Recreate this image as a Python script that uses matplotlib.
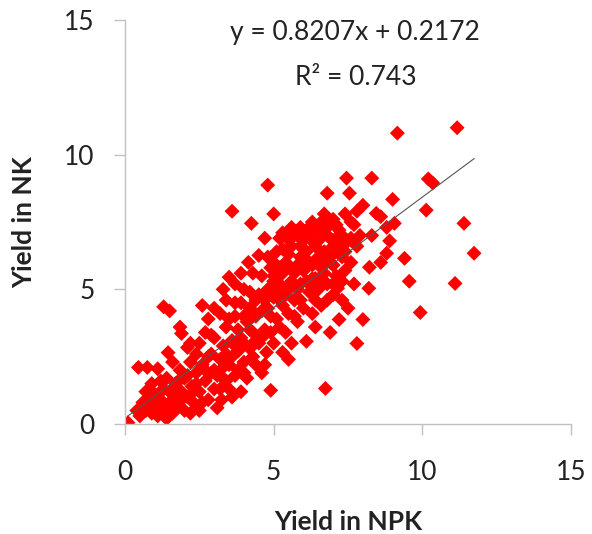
import numpy as np
import matplotlib
matplotlib.use('Agg')
import matplotlib.pyplot as plt

# --- values (yield in t/ha) ---
yield_npk = [
    # near origin
    0.1, 0.4, 0.5, 0.6, 0.7, 0.8, 0.9, 1.0, 1.0, 1.1, 1.2, 1.3, 1.3, 1.4, 1.5, 1.5,
    0.45, 0.75, 1.1, 0.9, 1.2, 0.7, 1.4, 1.45, 1.2,
    # 1.5 - 3
    1.6, 1.7, 1.7, 1.8, 1.85, 1.9, 1.9, 2.0, 2.0, 2.1, 2.1, 2.2, 2.25, 2.3, 2.4, 2.4,
    2.5, 2.5, 2.6, 2.6, 2.7, 2.7, 2.8, 2.8, 2.9, 3.0, 3.0, 1.3, 1.5, 1.85, 2.9, 2.2,
    1.6, 2.5, 1.8, 1.6, 2.1, 2.4, 2.7, 3.0, 2.9, 2.3, 2.6, 1.9, 2.2,
    # 3 - 4.5
    3.1, 3.2, 3.25, 3.3, 3.3, 3.4, 3.5, 3.5, 3.5, 3.6, 3.6, 3.7, 3.7, 3.8, 3.8, 3.9,
    3.9, 4.0, 4.0, 4.0, 4.1, 4.1, 4.15, 4.2, 4.2, 4.25, 4.3, 4.3, 4.4, 4.4, 4.5, 4.5,
    4.5, 3.2, 3.4, 3.0, 3.7, 3.9, 3.3, 2.8, 4.2, 4.4, 4.3, 3.9, 3.6, 3.4, 3.8, 3.2,
    3.5, 4.0, 4.2, 3.7, 3.1, 3.4, 3.7, 4.0, 4.3, 3.3, 3.6,
    # 4.5 - 6
    4.6, 4.7, 4.7, 4.76, 4.8, 4.8, 4.9, 4.9, 5.0, 5.0, 5.0, 5.1, 5.1, 5.2, 5.3, 5.3,
    5.3, 5.4, 5.4, 5.45, 5.5, 5.5, 5.6, 5.6, 5.7, 5.7, 5.8, 5.8, 5.9, 5.9, 6.0, 6.0,
    6.0, 4.6, 4.8, 5.2, 4.9, 5.0, 5.2, 5.6, 5.5, 4.7, 4.6, 4.6, 4.8, 4.9, 5.1, 5.2,
    5.3, 5.4, 5.6, 5.7, 5.8, 5.9, 5.9, 5.5, 5.0, 4.7, 5.0, 5.3, 5.6, 5.9, 5.2, 5.5,
    5.8,
    # 6 - 8
    6.1, 6.1, 6.2, 6.2, 6.3, 6.3, 6.4, 6.4, 6.5, 6.5, 6.6, 6.6, 6.7, 6.74, 6.8, 6.8,
    6.8, 6.9, 6.9, 7.0, 7.0, 7.0, 7.1, 7.15, 7.2, 7.2, 7.3, 7.3, 7.4, 7.45, 7.4, 7.5,
    7.5, 7.55, 7.6, 7.7, 7.7, 7.8, 7.8, 7.9, 8.0, 8.0, 6.2, 6.6, 7.0, 7.3, 6.4, 6.9,
    7.6, 7.1, 6.1, 6.1, 6.3, 6.4, 6.5, 6.6, 6.7, 6.8, 7.0, 7.2, 7.3, 7.4, 7.6, 7.8,
    6.7, 6.3, 6.2, 6.5, 6.8, 7.1, 6.1, 6.4, 6.7, 7.0,
    # 8 - 12
    8.2, 8.22, 8.3, 8.45, 8.6, 8.8, 8.8, 8.9, 9.0, 9.06, 9.16, 9.4, 9.56, 9.93, 10.13,
    10.2, 10.35, 11.17, 11.4, 11.74, 11.1, 8.6, 8.3,
]

yield_nk = [
    # near origin
    0.05, 0.5, 0.3, 0.8, 0.5, 0.9, 0.4, 0.7, 1.1, 0.3, 0.9, 0.5, 1.3, 0.2, 0.8, 1.2,
    2.1, 2.1, 2.05, 1.5, 1.6, 1.2, 1.7, 2.65, 1.2,
    # 1.5 - 3
    0.4, 1.0, 1.5, 0.7, 2.0, 1.2, 3.36, 0.5, 1.7, 2.84, 1.0, 2.3, 1.4, 0.8, 1.9, 2.6,
    0.5, 1.2, 2.2, 4.4, 3.4, 1.6, 0.9, 2.5, 1.9, 3.2, 1.3, 4.35, 4.2, 3.6, 3.3, 3.0,
    2.3, 3.0, 1.6, 1.1, 1.8, 1.5, 2.0, 2.0, 2.6, 1.2, 0.8, 0.9, 0.4,
    # 3 - 4.5
    0.6, 2.4, 0.9, 1.7, 2.9, 3.6, 1.3, 5.45, 2.2, 3.1, 7.9, 1.8, 4.0, 2.7, 3.5, 1.2,
    4.5, 2.3, 3.0, 5.0, 3.8, 1.7, 6.0, 2.8, 4.3, 7.45, 3.4, 5.6, 2.2, 4.0, 3.0, 6.26,
    4.8, 4.1, 4.6, 4.3, 5.2, 5.6, 5.0, 3.9, 3.5, 4.6, 3.0, 3.2, 2.5, 2.6, 2.0, 1.3,
    3.9, 4.0, 4.9, 4.5, 1.8, 1.6, 2.9, 1.9, 2.5, 2.1, 1.0,
    # 4.5 - 6
    1.9, 3.5, 6.9, 2.66, 8.87, 4.3, 1.25, 5.8, 7.8, 3.0, 4.7, 3.9, 6.4, 5.2, 2.66, 7.1,
    4.4, 6.0, 3.4, 6.9, 5.0, 4.1, 6.6, 3.0, 5.6, 4.6, 7.0, 3.8, 6.2, 5.2, 4.3, 6.8,
    5.7, 5.5, 6.2, 5.8, 4.0, 5.5, 6.9, 7.3, 2.4, 2.2, 4.2, 3.2, 5.0, 3.4, 4.9, 3.6,
    5.6, 4.8, 5.3, 4.0, 5.9, 4.6, 7.3, 6.3, 6.0, 4.6, 5.3, 6.5, 6.9, 6.6, 4.6, 5.9,
    5.0,
    # 6 - 8
    3.07, 7.2, 4.9, 6.0, 5.4, 4.1, 6.6, 3.6, 5.0, 7.2, 5.8, 4.4, 6.4, 1.32, 8.57, 7.0,
    5.2, 3.4, 6.0, 7.6, 4.8, 6.6, 5.5, 5.04, 3.88, 7.2, 6.2, 4.6, 7.8, 9.13, 5.7, 6.8,
    4.3, 8.57, 6.0, 7.4, 5.2, 2.99, 6.6, 7.0, 3.88, 8.12, 6.9, 7.5, 5.9, 7.0, 5.4, 6.9,
    7.5, 6.9, 5.3, 6.4, 5.9, 4.6, 6.2, 5.2, 5.6, 4.6, 5.2, 6.6, 5.3, 6.4, 6.9, 7.9,
    7.8, 7.5, 7.0, 6.8, 7.3, 7.4, 5.8, 5.1, 6.1, 6.3,
    # 8 - 12
    5.04, 5.82, 9.13, 7.82, 7.7, 6.34, 7.3, 6.8, 8.34, 7.45, 10.8, 6.15, 5.3, 4.14, 7.94,
    9.1, 8.95, 11.0, 7.45, 6.34, 5.22, 6.0, 7.0,
]

# linear trendline as printed on the chart
slope = 0.8207
intercept = 0.2172
r_squared = 0.743

x_ticks = [0, 5, 10, 15]
y_ticks = [0, 5, 10, 15]

fig = plt.figure(figsize=(5.92, 5.34), dpi=100)
ax = fig.add_axes([125 / 592, 1 - 424 / 534, 446 / 592, 404 / 534])

ax.scatter(yield_npk, yield_nk, marker='D', s=58, color='#ff0000',
           edgecolors='none', zorder=2)

x_line = np.array([min(yield_npk), max(yield_npk)])
ax.plot(x_line, slope * x_line + intercept, color='#555555', lw=0.8, zorder=3)

ax.set_xlim(0, 15)
ax.set_ylim(0, 15)
ax.set_xticks(x_ticks)
ax.set_yticks(y_ticks)

font = 'Lato'
for spine in ['top', 'right']:
    ax.spines[spine].set_visible(False)
for spine in ['left', 'bottom']:
    ax.spines[spine].set_color('#c0c0c0')
    ax.spines[spine].set_linewidth(1.0)
ax.tick_params(axis='both', direction='out', length=8, width=1.0,
               color='#c0c0c0', labelsize=19, labelcolor='#222222')
ax.tick_params(axis='x', pad=18)
ax.tick_params(axis='y', pad=14)
for lbl in ax.get_xticklabels() + ax.get_yticklabels():
    lbl.set_family(font)

ax.set_xlabel('Yield in NPK', fontsize=19, fontweight='bold', family=font,
              color='#222222', labelpad=18)
ax.set_ylabel('Yield in NK', fontsize=19, fontweight='bold', family=font,
              color='#222222', labelpad=20)

ax.text(7.75, 14.55, f'y = {slope}x + {intercept}', ha='center', va='center',
        fontsize=19, family=font, color='#222222')
ax.text(7.75, 12.85, f'R\u00b2 = {r_squared}', ha='center', va='center',
        fontsize=19, family=font, color='#222222')

fig.savefig('out.png', dpi=100)
